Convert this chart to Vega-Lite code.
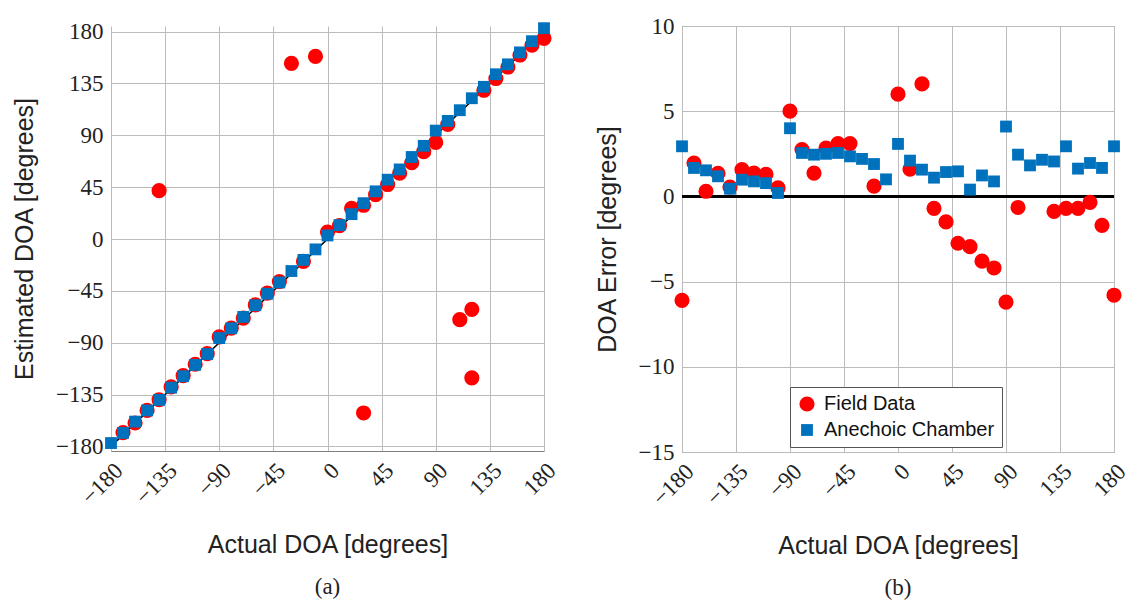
{
  "$schema": "https://vega.github.io/schema/vega-lite/v6.json",
  "background": "white",
  "padding": {"left": 12, "top": 14, "right": 5, "bottom": 2},
  "config": {
    "view": {"stroke": "#7f7f7f", "strokeWidth": 1},
    "axis": {
      "labelFont": "Liberation Serif", "labelFontSize": 23, "labelColor": "#222222",
      "titleFont": "Liberation Sans", "titleFontSize": 25, "titleFontWeight": "normal", "titleColor": "#222222",
      "grid": true, "gridColor": "#bcbcbc", "gridWidth": 1, "gridOpacity": 1,
      "domain": false, "domainColor": "#7f7f7f", "tickSize": 0, "labelPadding": 8, "labelFlush": false, "labelOverlap": false
    },
    "title": {"font": "Liberation Serif", "fontSize": 23, "fontWeight": "normal", "color": "#222222", "orient": "bottom", "anchor": "middle", "offset": 18},
    "legend": {
      "labelFont": "Liberation Sans", "labelFontSize": 20, "labelColor": "#111111", "labelLimit": 400,
      "strokeColor": "#555555", "fillColor": "white", "padding": 7, "labelOffset": 7,
      "rowPadding": 6, "cornerRadius": 0
    }
  },
  "resolve": {
    "scale": {"color": "independent", "shape": "independent", "size": "independent"},
    "legend": {"color": "independent", "shape": "independent", "size": "independent"}
  },
  "datasets": {
    "left": [
      {"actual": -170, "est": -168.0, "series": "Field Data"},
      {"actual": -160, "est": -159.7, "series": "Field Data"},
      {"actual": -150, "est": -148.7, "series": "Field Data"},
      {"actual": -140, "est": -139.5, "series": "Field Data"},
      {"actual": -140, "est": 42, "series": "Field Data"},
      {"actual": -130, "est": -128.4, "series": "Field Data"},
      {"actual": -120, "est": -118.6, "series": "Field Data"},
      {"actual": -110, "est": -108.7, "series": "Field Data"},
      {"actual": -100, "est": -99.5, "series": "Field Data"},
      {"actual": -90, "est": -85.0, "series": "Field Data"},
      {"actual": -80, "est": -77.3, "series": "Field Data"},
      {"actual": -70, "est": -68.6, "series": "Field Data"},
      {"actual": -60, "est": -57.2, "series": "Field Data"},
      {"actual": -50, "est": -46.9, "series": "Field Data"},
      {"actual": -40, "est": -36.9, "series": "Field Data"},
      {"actual": -30, "est": 152.5, "series": "Field Data"},
      {"actual": -20, "est": -19.4, "series": "Field Data"},
      {"actual": -10, "est": 158.5, "series": "Field Data"},
      {"actual": 0, "est": 6.0, "series": "Field Data"},
      {"actual": 10, "est": 11.6, "series": "Field Data"},
      {"actual": 20, "est": 26.6, "series": "Field Data"},
      {"actual": 30, "est": 29.3, "series": "Field Data"},
      {"actual": 30, "est": -151, "series": "Field Data"},
      {"actual": 40, "est": 38.5, "series": "Field Data"},
      {"actual": 50, "est": 47.3, "series": "Field Data"},
      {"actual": 60, "est": 57.1, "series": "Field Data"},
      {"actual": 70, "est": 66.2, "series": "Field Data"},
      {"actual": 80, "est": 75.8, "series": "Field Data"},
      {"actual": 90, "est": 83.8, "series": "Field Data"},
      {"actual": 100, "est": 99.4, "series": "Field Data"},
      {"actual": 110, "est": -70, "series": "Field Data"},
      {"actual": 120, "est": -61, "series": "Field Data"},
      {"actual": 120, "est": -120.5, "series": "Field Data"},
      {"actual": 130, "est": 129.1, "series": "Field Data"},
      {"actual": 140, "est": 139.3, "series": "Field Data"},
      {"actual": 150, "est": 149.3, "series": "Field Data"},
      {"actual": 160, "est": 159.7, "series": "Field Data"},
      {"actual": 170, "est": 168.3, "series": "Field Data"},
      {"actual": 180, "est": 174.2, "series": "Field Data"},
      {"actual": -180, "est": -177.1, "series": "Anechoic Chamber"},
      {"actual": -170, "est": -168.3, "series": "Anechoic Chamber"},
      {"actual": -160, "est": -158.5, "series": "Anechoic Chamber"},
      {"actual": -150, "est": -148.8, "series": "Anechoic Chamber"},
      {"actual": -140, "est": -139.6, "series": "Anechoic Chamber"},
      {"actual": -130, "est": -129.0, "series": "Anechoic Chamber"},
      {"actual": -120, "est": -119.1, "series": "Anechoic Chamber"},
      {"actual": -110, "est": -109.2, "series": "Anechoic Chamber"},
      {"actual": -100, "est": -99.8, "series": "Anechoic Chamber"},
      {"actual": -90, "est": -86.0, "series": "Anechoic Chamber"},
      {"actual": -80, "est": -77.5, "series": "Anechoic Chamber"},
      {"actual": -70, "est": -67.6, "series": "Anechoic Chamber"},
      {"actual": -60, "est": -57.5, "series": "Anechoic Chamber"},
      {"actual": -50, "est": -47.5, "series": "Anechoic Chamber"},
      {"actual": -40, "est": -37.7, "series": "Anechoic Chamber"},
      {"actual": -30, "est": -27.8, "series": "Anechoic Chamber"},
      {"actual": -20, "est": -18.1, "series": "Anechoic Chamber"},
      {"actual": -10, "est": -9.0, "series": "Anechoic Chamber"},
      {"actual": 0, "est": 3.1, "series": "Anechoic Chamber"},
      {"actual": 10, "est": 12.1, "series": "Anechoic Chamber"},
      {"actual": 20, "est": 21.6, "series": "Anechoic Chamber"},
      {"actual": 30, "est": 31.1, "series": "Anechoic Chamber"},
      {"actual": 40, "est": 41.4, "series": "Anechoic Chamber"},
      {"actual": 50, "est": 51.5, "series": "Anechoic Chamber"},
      {"actual": 60, "est": 60.4, "series": "Anechoic Chamber"},
      {"actual": 70, "est": 71.2, "series": "Anechoic Chamber"},
      {"actual": 80, "est": 80.9, "series": "Anechoic Chamber"},
      {"actual": 90, "est": 94.1, "series": "Anechoic Chamber"},
      {"actual": 100, "est": 102.5, "series": "Anechoic Chamber"},
      {"actual": 110, "est": 111.8, "series": "Anechoic Chamber"},
      {"actual": 120, "est": 122.2, "series": "Anechoic Chamber"},
      {"actual": 130, "est": 132.1, "series": "Anechoic Chamber"},
      {"actual": 140, "est": 143.0, "series": "Anechoic Chamber"},
      {"actual": 150, "est": 151.6, "series": "Anechoic Chamber"},
      {"actual": 160, "est": 162.0, "series": "Anechoic Chamber"},
      {"actual": 170, "est": 171.7, "series": "Anechoic Chamber"},
      {"actual": 180, "est": 183.0, "series": "Anechoic Chamber"}
    ],
    "right": [
      {"actual": -180, "err": -6.1, "series": "Field Data"},
      {"actual": -170, "err": 1.96, "series": "Field Data"},
      {"actual": -160, "err": 0.3, "series": "Field Data"},
      {"actual": -150, "err": 1.35, "series": "Field Data"},
      {"actual": -140, "err": 0.55, "series": "Field Data"},
      {"actual": -130, "err": 1.57, "series": "Field Data"},
      {"actual": -120, "err": 1.37, "series": "Field Data"},
      {"actual": -110, "err": 1.3, "series": "Field Data"},
      {"actual": -100, "err": 0.5, "series": "Field Data"},
      {"actual": -90, "err": 5.0, "series": "Field Data"},
      {"actual": -80, "err": 2.75, "series": "Field Data"},
      {"actual": -70, "err": 1.37, "series": "Field Data"},
      {"actual": -60, "err": 2.84, "series": "Field Data"},
      {"actual": -50, "err": 3.1, "series": "Field Data"},
      {"actual": -40, "err": 3.1, "series": "Field Data"},
      {"actual": -20, "err": 0.6, "series": "Field Data"},
      {"actual": 0, "err": 6.0, "series": "Field Data"},
      {"actual": 10, "err": 1.6, "series": "Field Data"},
      {"actual": 20, "err": 6.6, "series": "Field Data"},
      {"actual": 30, "err": -0.7, "series": "Field Data"},
      {"actual": 40, "err": -1.5, "series": "Field Data"},
      {"actual": 50, "err": -2.75, "series": "Field Data"},
      {"actual": 60, "err": -2.95, "series": "Field Data"},
      {"actual": 70, "err": -3.8, "series": "Field Data"},
      {"actual": 80, "err": -4.2, "series": "Field Data"},
      {"actual": 90, "err": -6.2, "series": "Field Data"},
      {"actual": 100, "err": -0.65, "series": "Field Data"},
      {"actual": 130, "err": -0.88, "series": "Field Data"},
      {"actual": 140, "err": -0.7, "series": "Field Data"},
      {"actual": 150, "err": -0.7, "series": "Field Data"},
      {"actual": 160, "err": -0.35, "series": "Field Data"},
      {"actual": 170, "err": -1.7, "series": "Field Data"},
      {"actual": 180, "err": -5.8, "series": "Field Data"},
      {"actual": -180, "err": 2.94, "series": "Anechoic Chamber"},
      {"actual": -170, "err": 1.67, "series": "Anechoic Chamber"},
      {"actual": -160, "err": 1.53, "series": "Anechoic Chamber"},
      {"actual": -150, "err": 1.18, "series": "Anechoic Chamber"},
      {"actual": -140, "err": 0.45, "series": "Anechoic Chamber"},
      {"actual": -130, "err": 0.98, "series": "Anechoic Chamber"},
      {"actual": -120, "err": 0.88, "series": "Anechoic Chamber"},
      {"actual": -110, "err": 0.78, "series": "Anechoic Chamber"},
      {"actual": -100, "err": 0.2, "series": "Anechoic Chamber"},
      {"actual": -90, "err": 4.0, "series": "Anechoic Chamber"},
      {"actual": -80, "err": 2.55, "series": "Anechoic Chamber"},
      {"actual": -70, "err": 2.45, "series": "Anechoic Chamber"},
      {"actual": -60, "err": 2.5, "series": "Anechoic Chamber"},
      {"actual": -50, "err": 2.55, "series": "Anechoic Chamber"},
      {"actual": -40, "err": 2.35, "series": "Anechoic Chamber"},
      {"actual": -30, "err": 2.2, "series": "Anechoic Chamber"},
      {"actual": -20, "err": 1.9, "series": "Anechoic Chamber"},
      {"actual": -10, "err": 1.0, "series": "Anechoic Chamber"},
      {"actual": 0, "err": 3.08, "series": "Anechoic Chamber"},
      {"actual": 10, "err": 2.1, "series": "Anechoic Chamber"},
      {"actual": 20, "err": 1.57, "series": "Anechoic Chamber"},
      {"actual": 30, "err": 1.1, "series": "Anechoic Chamber"},
      {"actual": 40, "err": 1.43, "series": "Anechoic Chamber"},
      {"actual": 50, "err": 1.47, "series": "Anechoic Chamber"},
      {"actual": 60, "err": 0.4, "series": "Anechoic Chamber"},
      {"actual": 70, "err": 1.23, "series": "Anechoic Chamber"},
      {"actual": 80, "err": 0.88, "series": "Anechoic Chamber"},
      {"actual": 90, "err": 4.1, "series": "Anechoic Chamber"},
      {"actual": 100, "err": 2.45, "series": "Anechoic Chamber"},
      {"actual": 110, "err": 1.82, "series": "Anechoic Chamber"},
      {"actual": 120, "err": 2.15, "series": "Anechoic Chamber"},
      {"actual": 130, "err": 2.05, "series": "Anechoic Chamber"},
      {"actual": 140, "err": 2.94, "series": "Anechoic Chamber"},
      {"actual": 150, "err": 1.63, "series": "Anechoic Chamber"},
      {"actual": 160, "err": 1.96, "series": "Anechoic Chamber"},
      {"actual": 170, "err": 1.67, "series": "Anechoic Chamber"},
      {"actual": 180, "err": 2.94, "series": "Anechoic Chamber"}
    ]
  },
  "spacing": 33,
  "hconcat": [
    {
      "width": 433,
      "height": 425,
      "title": {"text": "(a)"},
      "view": {"stroke": null},
      "layer": [
        {
          "data": {"values": [{}]},
          "mark": {"type": "rule", "color": "black", "strokeWidth": 1.5},
          "encoding": {
            "x": {
              "datum": -180, "type": "quantitative",
              "scale": {"domain": [-180, 180], "nice": false, "zero": false},
              "axis": {"title": "Actual DOA [degrees]", "values": [-180, -135, -90, -45, 0, 45, 90, 135, 180], "labelAngle": -45, "labelAlign": "right", "labelBaseline": "top", "titlePadding": 24, "domain": true}
            },
            "y": {
              "datum": -180, "type": "quantitative",
              "scale": {"domain": [-184, 184.9], "nice": false, "zero": false},
              "axis": {"title": "Estimated DOA [degrees]", "values": [-180, -135, -90, -45, 0, 45, 90, 135, 180], "titlePadding": 18}
            },
            "x2": {"datum": 180},
            "y2": {"datum": 180}
          }
        },
        {
          "data": {"name": "left"},
          "mark": {"type": "point", "filled": true, "opacity": 1},
          "encoding": {
            "x": {
              "field": "actual", "type": "quantitative",
              "axis": {"title": "Actual DOA [degrees]", "values": [-180, -135, -90, -45, 0, 45, 90, 135, 180], "labelAngle": -45, "labelAlign": "right", "labelBaseline": "top", "titlePadding": 24, "domain": true}
            },
            "y": {
              "field": "est", "type": "quantitative",
              "axis": {"title": "Estimated DOA [degrees]", "values": [-180, -135, -90, -45, 0, 45, 90, 135, 180], "titlePadding": 18}
            },
            "color": {"field": "series", "type": "nominal", "scale": {"domain": ["Field Data", "Anechoic Chamber"], "range": ["#ff0000", "#0072bd"]}, "legend": null},
            "shape": {"field": "series", "type": "nominal", "scale": {"domain": ["Field Data", "Anechoic Chamber"], "range": ["circle", "square"]}, "legend": null},
            "size": {"field": "series", "type": "nominal", "scale": {"domain": ["Field Data", "Anechoic Chamber"], "range": [230, 140]}, "legend": null}
          }
        }
      ]
    },
    {
      "width": 432,
      "height": 426,
      "title": {"text": "(b)"},
      "layer": [
        {
          "data": {"values": [{}]},
          "mark": {"type": "rule", "color": "black", "strokeWidth": 3},
          "encoding": {
            "y": {
              "datum": 0, "type": "quantitative",
              "scale": {"domain": [-15, 10], "nice": false, "zero": false},
              "axis": {"title": "DOA Error [degrees]", "values": [-15, -10, -5, 0, 5, 10], "titlePadding": 18}
            }
          }
        },
        {
          "data": {"name": "right"},
          "mark": {"type": "point", "filled": true, "opacity": 1},
          "encoding": {
            "x": {
              "field": "actual", "type": "quantitative",
              "scale": {"domain": [-180, 180], "nice": false, "zero": false},
              "axis": {"title": "Actual DOA [degrees]", "values": [-180, -135, -90, -45, 0, 45, 90, 135, 180], "labelAngle": -45, "labelAlign": "right", "labelBaseline": "top", "titlePadding": 24}
            },
            "y": {
              "field": "err", "type": "quantitative",
              "axis": {"title": "DOA Error [degrees]", "values": [-15, -10, -5, 0, 5, 10], "titlePadding": 18}
            },
            "color": {"field": "series", "type": "nominal", "scale": {"domain": ["Field Data", "Anechoic Chamber"], "range": ["#ff0000", "#0072bd"]}, "legend": {"title": null, "orient": "none", "legendX": 108, "legendY": 361, "encode": {"symbols": {"update": {"size": {"signal": "datum.value === 'Field Data' ? 230 : 140"}}}}}},
            "shape": {"field": "series", "type": "nominal", "scale": {"domain": ["Field Data", "Anechoic Chamber"], "range": ["circle", "square"]}, "legend": {"title": null, "orient": "none", "legendX": 108, "legendY": 361, "encode": {"symbols": {"update": {"size": {"signal": "datum.value === 'Field Data' ? 230 : 140"}}}}}},
            "size": {"field": "series", "type": "nominal", "scale": {"domain": ["Field Data", "Anechoic Chamber"], "range": [230, 140]}, "legend": null}
          }
        }
      ]
    }
  ]
}
